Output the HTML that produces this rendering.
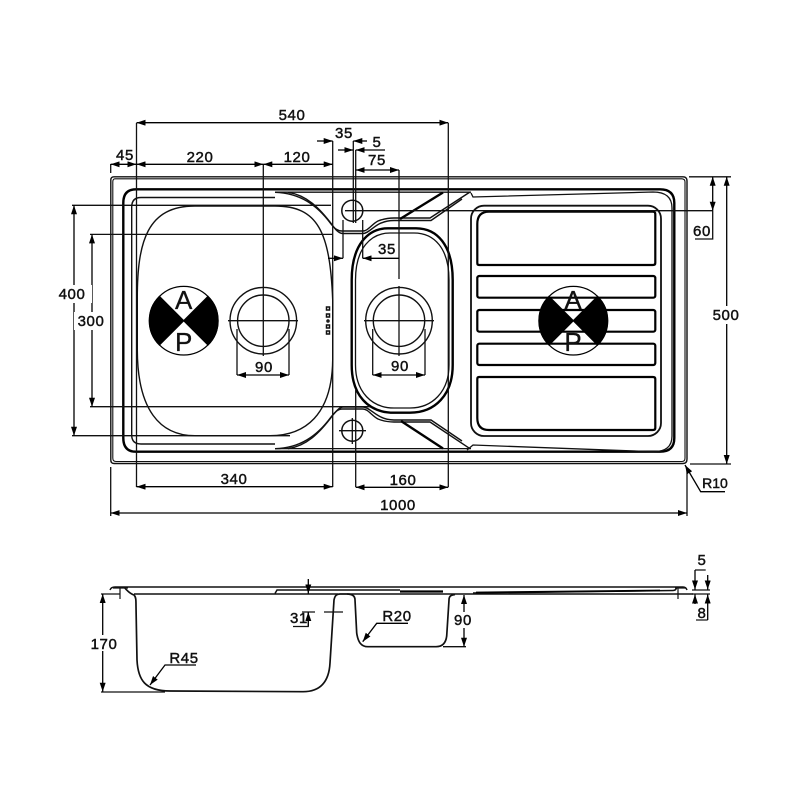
<!DOCTYPE html>
<html><head><meta charset="utf-8"><style>
html,body{margin:0;padding:0;background:#fff}
svg{display:block}
text{font-family:"Liberation Sans",sans-serif;font-size:15px;fill:#111;letter-spacing:.6px;text-anchor:middle;stroke:#111;stroke-width:.45}
</style></head><body>
<svg width="800" height="800" viewBox="0 0 800 800" xmlns="http://www.w3.org/2000/svg">
<defs>
<marker id="a" viewBox="0 0 9 6" refX="9" refY="3" markerWidth="9" markerHeight="6" markerUnits="userSpaceOnUse" orient="auto-start-reverse"><path d="M0 0L9 3L0 6Z" fill="#000"/></marker>
</defs>
<rect width="800" height="800" fill="#fff"/>
<g fill="none" stroke="#111" stroke-width="1.300">
<!-- rim -->
<path d="M114 176.800H683Q687 176.800 687 181V459Q687 463.500 683 463.500H114Q110.800 463.500 110.800 460V180Q110.800 176.800 114 176.800Z" stroke-width="1.400"/>
<path d="M115 178.800H682Q685 179 685 182V458Q685 461.500 682 461.500H116Q112.800 461.500 112.800 458V182Q112.800 178.800 115 178.800Z" stroke-width="1.100"/>
<path d="M136 189.300H660Q674.300 189.300 674.300 203V438Q674.300 451.700 660 451.700H136Q123.300 451.700 123.300 438V203Q123.300 189.300 136 189.300Z" stroke="#000" stroke-width="2.400"/>
<path d="M275 197.500H141Q131.700 197.500 131.700 207V435Q131.700 444 141 444H275" stroke-width="1.400"/>
<path d="M275 192.200H471M275 448.600H471" stroke-width="1.300"/>
<!-- basin edge top/bottom -->
<path d="M275 192.300C300 193 317 205 331 224C335 229 338 231 342 231H363C368 231 372 224 378 221C383 219 388 218 394 218H430L470 192" stroke-width="1.400"/>
<path d="M288 192.300C306 195 319 207 333 226C337 232 340 233.500 343 233.500H363C368 233.500 373 227 379 224C384 221.500 389 220.500 394 220.500H431L462 199" stroke-width="1.400"/>
<path d="M443 192.500L400 219" stroke="#000" stroke-width="2.400"/>
<path d="M275 448.700C300 448 317 436 331 417C335 412 338 409 342 409H363C368 409 372 416 378 419C383 421 388 422 394 422H430L470 448.700" stroke-width="1.400"/>
<path d="M288 448.700C306 446 319 434 333 415C337 410 340 407 343 407H363C368 407 373 413 379 416C384 419 389 420 394 420H431L462 441" stroke-width="1.400"/>
<path d="M443 448.500L401 421" stroke="#000" stroke-width="2.400"/>
<!-- drainer surround -->
<path d="M471 193L473 197L653 192Q672 192 672 208V436Q672 452 653 451.700L473 445L467 450" stroke-width="1.300"/>
<!-- big bowl -->
<path d="M137.300 300C137 240 148 206 195 206H275C318 206 330 232 332.700 300V360C332 415 305 435.700 270 435.700H195C160 435.700 137.500 410 137.300 350Z" stroke-width="1.400"/>
<!-- small bowl -->
<path d="M351.700 280C351.700 245 368 228.300 388 228.300H416C437 228.300 452.700 245 452.700 280V365C452.700 395 435 412.700 410 412.700H394C368 412.700 351.700 395 351.700 365Z" stroke="#000" stroke-width="2.400"/>
<path d="M355.500 280C355.500 248 371 233 390 233H414C434 233 449 248 449 280V365C449 392 432 408 410 408H394C372 408 355.500 392 355.500 365Z" stroke-width="1.300"/>
<!-- drainer -->
<rect x="471" y="205.700" width="190" height="230.300" rx="13" stroke-width="1.800"/>
<path d="M489 211.700H653Q655.300 211.700 655.300 214V263Q655.300 265 653 265H479Q477.300 265 477.300 263V224Q477.300 211.700 489 211.700Z" stroke="#000" stroke-width="2.200"/>
<rect x="477.300" y="276" width="178" height="21.700" rx="2" stroke="#000" stroke-width="2.200"/>
<rect x="477.300" y="310" width="178" height="21.700" rx="2" stroke="#000" stroke-width="2.200"/>
<rect x="477.300" y="343.700" width="178" height="21.300" rx="2" stroke="#000" stroke-width="2.200"/>
<path d="M479 377H653Q655.300 377 655.300 379V428Q655.300 430 653 430H489Q477.300 430 477.300 418V379Q477.300 377 479 377Z" stroke="#000" stroke-width="2.200"/>
<!-- tap holes -->
<circle cx="352.300" cy="210.700" r="10.500" stroke-width="1.500"/>
<circle cx="352.300" cy="430.700" r="10.500" stroke-width="1.500"/>
<path d="M339 430.700H366M352.300 418V444"/>
<!-- wastes -->
<circle cx="263.300" cy="320.700" r="33.300" stroke-width="1.400"/>
<circle cx="263.300" cy="320.700" r="25.700" stroke-width="1.400"/>
<circle cx="399" cy="320.700" r="33.300" stroke-width="1.400"/>
<circle cx="399" cy="320.700" r="25.700" stroke-width="1.400"/>
<path d="M228 320.700H298M364 320.700H434"/>
<!-- centre lines / extension lines -->
<path d="M263.300 164V356M399 170V279M399 286V356"/>
<path d="M136.500 123V487M332.700 141V487M353.300 141V223M355.700 150V223M355.700 390V487M448.300 123V487"/>
<path d="M72 205.300H331M90 234.400H333M90 406.700H370M72 435.700H290M345 210.700H713"/>
<path d="M343 220V258.300M362.700 220V258.300"/>
<path d="M237 329V375M289 329V375M372.700 329V375M425 329V375"/>
<path d="M110.700 164V173M110.700 467V516M687 470V516"/>
<path d="M689 176.800H731M690 464H731"/>
<path d="M712.700 210.700V239H695"/>
</g>
<!-- A P circles -->
<g stroke="#000" stroke-width="1.200">
<circle cx="183.700" cy="320.700" r="34.300" fill="#fff"/>
<path d="M183.700 320.700L159.400 296.400A34.300 34.300 0 0 0 159.400 345Z M183.700 320.700L208 296.400A34.300 34.300 0 0 1 208 345Z" fill="#000"/>
<circle cx="573.300" cy="320.700" r="34.300" fill="none"/>
<path d="M573.300 320.700L549 296.400A34.300 34.300 0 0 0 549 345Z M573.300 320.700L597.600 296.400A34.300 34.300 0 0 1 597.600 345Z" fill="#000"/>
</g>
<text x="183.700" y="309" style="font-size:26px;letter-spacing:0;stroke-width:.3">A</text>
<text x="183.700" y="351" style="font-size:26px;letter-spacing:0;stroke-width:.3">P</text>
<text x="573" y="309" style="font-size:26px;letter-spacing:0;stroke-width:.3">A</text>
<text x="573" y="351" style="font-size:26px;letter-spacing:0;stroke-width:.3">P</text>
<!-- small marks -->
<g fill="none" stroke="#111" stroke-width="1.500">
<rect x="326.500" y="307" width="3" height="3"/><rect x="326.500" y="314" width="3" height="3"/><circle cx="328" cy="321" r="1"/><rect x="326.500" y="325" width="3" height="3"/><rect x="326.500" y="331" width="3" height="3"/>
</g>
<!-- dimension arrows -->
<g fill="none" stroke="#000" stroke-width="1.300">
<path d="M136.500 122.700H448.300" marker-start="url(#a)" marker-end="url(#a)"/>
<path d="M317 141H332.700" marker-end="url(#a)"/><path d="M367 141H353.300" marker-end="url(#a)"/>
<path d="M338 150H353.300" marker-end="url(#a)"/><path d="M385 150H355.700" marker-end="url(#a)"/>
<path d="M355.700 170H399" marker-start="url(#a)" marker-end="url(#a)"/>
<path d="M136.500 164.300H263.300" marker-start="url(#a)" marker-end="url(#a)"/>
<path d="M263.300 164.300H332.700" marker-start="url(#a)" marker-end="url(#a)"/>
<path d="M110.700 164.300H136.500" marker-start="url(#a)" marker-end="url(#a)"/>
<path d="M328 258.300H343" marker-end="url(#a)"/><path d="M399 258.300H362.700" marker-end="url(#a)"/>
<path d="M237 375H289" marker-start="url(#a)" marker-end="url(#a)"/>
<path d="M372.700 375H425" marker-start="url(#a)" marker-end="url(#a)"/>
<path d="M136.500 486.700H332.700" marker-start="url(#a)" marker-end="url(#a)"/>
<path d="M355.700 487.300H448.300" marker-start="url(#a)" marker-end="url(#a)"/>
<path d="M110.700 513H687" marker-start="url(#a)" marker-end="url(#a)"/>
<path d="M74 205.300V435.700" marker-start="url(#a)" marker-end="url(#a)"/>
<path d="M92 234.400V406.700" marker-start="url(#a)" marker-end="url(#a)"/>
<path d="M712.700 176.800V210.700" marker-start="url(#a)" marker-end="url(#a)"/>
<path d="M726.700 176.800V464" marker-start="url(#a)" marker-end="url(#a)"/>
<path d="M725 491.700H700.700L685 465" marker-end="url(#a)"/>
</g>
<!-- side view -->
<g fill="none" stroke="#111" stroke-width="1.500">
<path d="M110 590Q111 587 115 587H683Q686 587 687 590"/>
<path d="M124 587C128 592 131 594 134 595C136 597 136 600 136 606L137 660C138 680 145 691 170 691L303 691.700C320 691.700 329 682 330 663L334 600C335 595 337 594 340 594H347C352 594 355 596 355 600L356.700 633C358 642 361 646.700 368 646.700H436C443 646.700 446 642 446.700 636L449 600C449 596 451 595 455 594.500" stroke-width="1.700"/>
<path d="M134 594H338M347 594H693"/>
<path d="M275 593.500L277 590H400"/>
<path d="M473 593L673 590.500Q676 590.500 677 587"/>
<path d="M400 591.500H443" stroke="#000" stroke-width="2.200"/>
<path d="M476 592.500L660 590.500" stroke="#000" stroke-width="1.800"/>
<path d="M120 587V599M113 588H128M678 587V599M675 588H686" stroke-width="1.200"/>
<path d="M302 612H315M324 612H343" stroke-width="1.200"/>
<path d="M101 692H165M443 646.700H466M101 594H120" stroke-width="1.300"/>
<path d="M293 626.500H308.300V612" stroke-width="1.200"/>
<path d="M692 590H710M692 594H710M695 570H705.700" stroke-width="1.200"/>
<path d="M696 620H707.700" stroke-width="1.200"/>
</g>
<g fill="none" stroke="#000" stroke-width="1.300">
<path d="M308.300 579V593.500" marker-end="url(#a)"/>
<path d="M308.300 626V612" marker-end="url(#a)"/>
<path d="M102.700 594V691.700" marker-start="url(#a)" marker-end="url(#a)"/>
<path d="M464 595V646.700" marker-start="url(#a)" marker-end="url(#a)"/>
<path d="M196 665H165L150 685" marker-end="url(#a)"/>
<path d="M408 623.300H376.700L362.700 641.700" marker-end="url(#a)"/>
<path d="M695 570V589.500" marker-end="url(#a)"/>
<path d="M707.700 575V589.500" marker-end="url(#a)"/>
<path d="M695 604V594.500" marker-end="url(#a)"/>
<path d="M707.700 620V594.500" marker-end="url(#a)"/>
</g>
<!-- text backgrounds -->
<g fill="#fff">
<rect x="56" y="285" width="36" height="18"/><rect x="74" y="312" width="36" height="18"/>
<rect x="711" y="306" width="32" height="18"/><rect x="92" y="635" width="24" height="16"/>
<rect x="454" y="612" width="20" height="16"/>
</g>
<!-- labels -->
<text x="292" y="120">540</text>
<text x="344" y="138">35</text>
<text x="377" y="147">5</text>
<text x="377" y="165">75</text>
<text x="125" y="160">45</text>
<text x="200" y="162">220</text>
<text x="297" y="162">120</text>
<text x="387" y="254">35</text>
<text x="72" y="299">400</text>
<text x="91" y="326">300</text>
<text x="264" y="372">90</text>
<text x="400" y="371">90</text>
<text x="234" y="484">340</text>
<text x="403" y="485">160</text>
<text x="398" y="510">1000</text>
<text x="702" y="236">60</text>
<text x="726" y="320">500</text>
<text x="715" y="488" style="font-size:14px;letter-spacing:0">R10</text>
<text x="104" y="649">170</text>
<text x="299" y="623">31</text>
<text x="184" y="663">R45</text>
<text x="397" y="621">R20</text>
<text x="463" y="625">90</text>
<text x="702" y="565">5</text>
<text x="702" y="618">8</text>
</svg>
</body></html>
